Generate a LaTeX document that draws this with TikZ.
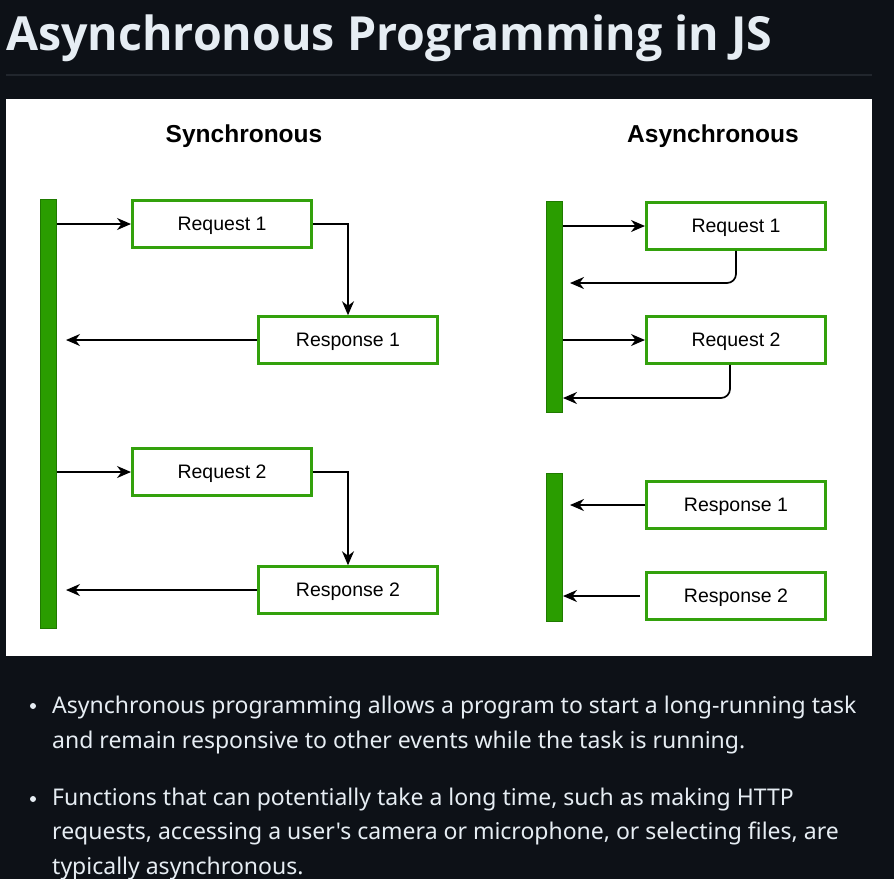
\documentclass[tikz,border=0pt]{standalone}
\usepackage{fontspec}
\usepackage{tikz}
\usetikzlibrary{positioning, arrows.meta}
\setmainfont{Liberation Sans}
\newfontfamily\notofont{Noto Sans}
\newfontfamily\titlefont[FakeStretch=0.99]{Open Sans}
\definecolor{page}{HTML}{0D1117}
\definecolor{ink}{HTML}{E6EDF3}
\definecolor{rule}{HTML}{21262D}
\definecolor{barfill}{HTML}{2A9D00}
\definecolor{barline}{HTML}{1F7A00}
\definecolor{boxline}{HTML}{33A10C}

\begin{document}
\begin{tikzpicture}[x=1pt, y=-1pt,
    box/.style={draw=boxline, line width=3pt, fill=white, minimum width=179pt, minimum height=46.5pt, inner sep=0pt, text depth=0pt, text=black, font=\fontsize{19.5}{23}\selectfont},
    bar/.style={draw=barline, line width=1pt, fill=barfill, minimum width=16pt, inner sep=0pt},
    arr/.style={-{Stealth[length=14pt, width=12pt, inset=4.5pt]}, line width=1.7pt},
    head/.style={font=\fontsize{24.5}{29}\selectfont\bfseries},
    para/.style={anchor=base west, text=ink, align=left, inner sep=0pt, font=\notofont\fontsize{23}{34.5}\selectfont},
    dot/.style={circle, fill=ink, inner sep=0pt, minimum size=6pt}]

  % Page, title and panel.
  \fill[page] (0,0) rectangle (894,879);
  \useasboundingbox (0,0) rectangle (894,879);
  \node[anchor=base west, text=ink, inner sep=0pt, font=\titlefont\fontsize{47}{56}\selectfont\bfseries] (title) at (6,50) {Asynchronous Programming in JS};
  \draw[rule, line width=1.2pt] (6,75) -- (872,75);
  \fill[white] (6,99) rectangle (872,656);

  % Synchronous: one bar, each request waits for its response.
  \node[head] (synchead) at (244,136) {Synchronous};
  \node[bar, minimum height=429pt] (sbar) at (48.5,414) {};
  \node[box] (sreq1) at (222,224) {Request 1};
  \node[box] (sres1) at (348,340) {Response 1};
  \node[box] (sreq2) at (222,472) {Request 2};
  \node[box] (sres2) at (348,590) {Response 2};
  \foreach \req/\res in {sreq1/sres1, sreq2/sres2} {
    \draw[arr] (sbar.east |- \req.west) -- (\req.west);
    \draw[arr] (\req.east) -| (\res.north);
    \draw[arr, shorten >=9pt] (\res.west) -- (sbar.east |- \res.west);
  }

  % Asynchronous: requests go out, responses come back later.
  \node[head] (asynchead) at (713,136) {Asynchronous};
  \node[bar, minimum height=211pt] (abar1) at (554.5,307) {};
  \node[bar, minimum height=148pt] (abar2) at (554.5,547.5) {};
  \node[box] (areq1) at (736,226) {Request 1};
  \node[box] (areq2) at (736,340) {Request 2};
  \node[box] (ares1) at (736,505) {Response 1};
  \node[box] (ares2) at (736,596) {Response 2};
  \coordinate (aret1) at (563,283);
  \coordinate (aret2) at (563,398);
  \draw[arr] (abar1.east |- areq1.west) -- (areq1.west);
  \draw[arr, rounded corners=9pt, shorten >=7pt] (areq1.south) |- (aret1);
  \draw[arr] (abar1.east |- areq2.west) -- (areq2.west);
  \draw[arr, rounded corners=9pt] ([xshift=-6pt]areq2.south) |- (aret2);
  \draw[arr, shorten >=7pt] (ares1.west) -- (abar2.east |- ares1.west);
  \draw[arr, shorten <=5pt] (ares2.west) -- (abar2.east |- ares2.west);

  % Notes below the panel.
  \node[dot] (dot1) at (33,706) {};
  \node[para] (item1) at (52,748) {Asynchronous programming allows a program to start a long-running task\\and remain responsive to other events while the task is running.};
  \node[dot] (dot2) at (33,799) {};
  \node[para] (item2) at (52,874) {Functions that can potentially take a long time, such as making HTTP\\requests, accessing a user\char39 s camera or microphone, or selecting files, are\\typically asynchronous.};
\end{tikzpicture}
\end{document}
